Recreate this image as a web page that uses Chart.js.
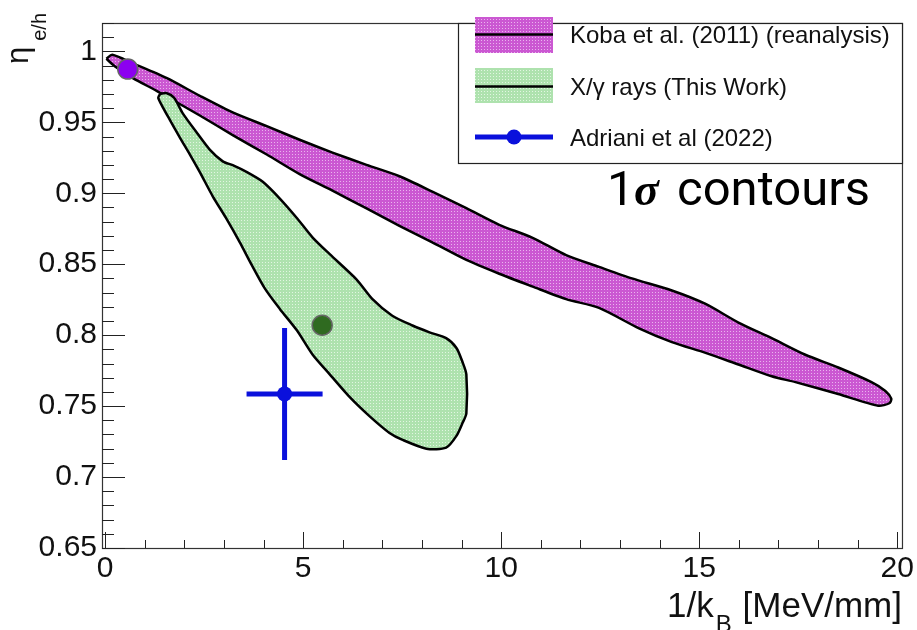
<!DOCTYPE html>
<html>
<head>
<meta charset="utf-8">
<script src="https://cdn.jsdelivr.net/npm/chart.js@4.4.1/dist/chart.umd.min.js"></script>
<style>
  html, body { margin: 0; padding: 0; background: #fff; }
  #wrap { width: 917px; height: 630px; }
</style>
</head>
<body>
<div id="wrap"><canvas id="myChart" width="917" height="630"></canvas></div>
<script>
// Koba et al. (2011) 1 sigma contour (top edge left->right, then bottom edge back)
const kobaX = [0.03, 0.18, 0.71, 1.56, 2.39, 3.22, 4.08, 4.91, 5.74, 6.60, 7.43, 8.26, 9.12, 9.95, 10.78, 11.64, 12.47, 13.30, 14.31, 15.16, 15.99, 16.83, 17.68, 18.51, 19.35, 19.70, 19.85, 19.80, 19.52, 18.51, 17.43, 16.83, 15.99, 15.16, 14.31, 13.48, 12.47, 11.64, 10.78, 9.95, 9.12, 8.26, 7.43, 6.60, 5.74, 4.91, 4.08, 3.22, 2.39, 1.31, 0.71, 0.25, 0.03];
const kobaY = [0.9948, 0.9976, 0.9914, 0.9811, 0.9687, 0.9570, 0.9473, 0.9377, 0.9287, 0.9200, 0.9120, 0.9012, 0.8895, 0.8778, 0.8688, 0.8564, 0.8481, 0.8400, 0.8315, 0.8220, 0.8089, 0.7979, 0.7862, 0.7772, 0.7669, 0.7607, 0.7552, 0.7520, 0.7503, 0.7585, 0.7669, 0.7710, 0.7793, 0.7875, 0.7951, 0.8048, 0.8192, 0.8254, 0.8344, 0.8433, 0.8530, 0.8654, 0.8771, 0.8893, 0.9018, 0.9135, 0.9273, 0.9410, 0.9548, 0.9720, 0.9810, 0.9893, 0.9948];

// X/gamma rays (This Work) 1 sigma contour
const greenX = [1.39, 1.54, 1.74, 1.96, 2.32, 2.64, 2.97, 3.22, 3.58, 3.98, 4.41, 4.84, 5.24, 5.67, 6.35, 6.75, 7.25, 7.76, 8.19, 8.61, 8.87, 9.02, 9.12, 9.12, 9.02, 8.87, 8.61, 8.11, 7.51, 7.18, 6.68, 6.17, 5.67, 5.24, 4.84, 4.41, 4.03, 3.70, 3.40, 3.05, 2.72, 2.39, 2.14, 1.89, 1.64, 1.46, 1.34, 1.39];
const greenY = [0.9700, 0.9707, 0.9673, 0.9563, 0.9425, 0.9308, 0.9225, 0.9198, 0.9149, 0.9081, 0.8963, 0.8826, 0.8688, 0.8571, 0.8392, 0.8254, 0.8137, 0.8068, 0.8020, 0.7979, 0.7910, 0.7813, 0.7724, 0.7448, 0.7379, 0.7290, 0.7207, 0.7200, 0.7262, 0.7311, 0.7428, 0.7565, 0.7724, 0.7862, 0.8034, 0.8185, 0.8330, 0.8495, 0.8654, 0.8826, 0.8977, 0.9149, 0.9273, 0.9391, 0.9514, 0.9604, 0.9673, 0.9700];

// best fit points
const kobaBestX = [0.57];
const kobaBestY = [0.9875];
const thisWorkBestX = [5.48];
const thisWorkBestY = [0.807];

// Adriani et al (2022) with errors
const adrianiX = [4.53];
const adrianiY = [0.7586];
const adrianiXErr = [0.96];
const adrianiYErr = [0.0465];

// axis ranges and ticks
const xRange = [-0.08, 20.12];
const yRange = [0.65, 1.02];
const xMajorStep = 5;
const yMajorStep = 0.05;

const legendLabels = ["Koba et al. (2011) (reanalysis)", "X/\u03B3 rays (This Work)", "Adriani et al (2022)"];

const canvas = document.getElementById("myChart");
const ctx = canvas.getContext("2d");

// ROOT-like dotted fill
function makePattern(dark, light) {
  const c = document.createElement("canvas");
  c.width = 3; c.height = 3;
  const g = c.getContext("2d");
  g.fillStyle = dark; g.fillRect(0, 0, 3, 3);
  g.fillStyle = light; g.fillRect(1, 1, 1, 1);
  return ctx.createPattern(c, "repeat");
}
const magentaFill = makePattern("#cb58d2", "#eab4ee");
const greenFill = makePattern("#aee2ae", "#e2f6e2");
const blue = "#0a10dc";

const toPts = (xs, ys) => xs.map((x, i) => ({ x, y: ys[i] }));

const overlay = {
  id: "overlay",
  beforeDatasetDraw(chart, args) {
    if (args.index !== 2) return;
    const { ctx, scales: { x, y } } = chart;
    ctx.save();
    ctx.strokeStyle = blue;
    ctx.lineWidth = 5;
    adrianiX.forEach((vx, i) => {
      const vy = adrianiY[i];
      ctx.beginPath();
      ctx.moveTo(x.getPixelForValue(vx - adrianiXErr[i]), y.getPixelForValue(vy));
      ctx.lineTo(x.getPixelForValue(vx + adrianiXErr[i]), y.getPixelForValue(vy));
      ctx.moveTo(x.getPixelForValue(vx), y.getPixelForValue(vy - adrianiYErr[i]));
      ctx.lineTo(x.getPixelForValue(vx), y.getPixelForValue(vy + adrianiYErr[i]));
      ctx.stroke();
    });
    ctx.restore();
  },
  afterDraw(chart) {
    const { ctx, chartArea: a, scales: { x, y } } = chart;
    ctx.save();

    // frame
    ctx.strokeStyle = "#333";
    ctx.lineWidth = 1.2;
    ctx.strokeRect(a.left + 0.5, a.top + 0.5, a.right - a.left, a.bottom - a.top);

    // inward ticks
    ctx.lineWidth = 1;
    ctx.strokeStyle = "#222";
    ctx.beginPath();
    for (let v = 0; v <= 20; v++) {
      const px = Math.round(x.getPixelForValue(v)) + 0.5;
      const len = v % xMajorStep === 0 ? 16 : 8;
      ctx.moveTo(px, a.bottom);
      ctx.lineTo(px, a.bottom - len);
    }
    for (let k = 65; k <= 102; k++) {
      const py = Math.round(y.getPixelForValue(k / 100)) + 0.5;
      const len = k % 5 === 0 ? 23 : 12;
      ctx.moveTo(a.left, py);
      ctx.lineTo(a.left + len, py);
    }
    ctx.stroke();

    // x title
    ctx.fillStyle = "#111";
    ctx.textBaseline = "alphabetic";
    ctx.textAlign = "left";
    const big = '35px "Liberation Sans", Arial, sans-serif';
    const sub = '24px "Liberation Sans", Arial, sans-serif';
    ctx.font = big;
    const wC = ctx.measureText(" [MeV/mm]").width;
    const wA = ctx.measureText("1/k").width;
    ctx.font = sub;
    const wB = ctx.measureText("B").width;
    const xr = a.right;
    ctx.font = big;
    ctx.fillText(" [MeV/mm]", xr - wC, 617);
    ctx.font = sub;
    ctx.fillText("B", xr - wC - wB - 1, 632);
    ctx.font = big;
    ctx.fillText("1/k", xr - wC - wB - wA - 3, 617);

    // y title (rotated)
    ctx.save();
    ctx.translate(28, 64);
    ctx.rotate(-Math.PI / 2);
    ctx.font = '31px "Liberation Sans", Arial, sans-serif';
    ctx.fillText("\u03B7", 0, 0);
    const wEta = ctx.measureText("\u03B7").width;
    ctx.font = '20px "Liberation Sans", Arial, sans-serif';
    ctx.fillText("e/h", wEta + 6, 18);
    ctx.restore();

    // legend box
    const lx = 458, ly = a.top, lr = a.right, lb = 163;
    ctx.fillStyle = "#fff";
    ctx.fillRect(lx, ly, lr - lx, lb - ly);
    ctx.strokeStyle = "#222";
    ctx.lineWidth = 1.2;
    ctx.strokeRect(lx + 0.5, ly + 0.5, lr - lx, lb - ly);

    const sx0 = 475, sx1 = 553;
    ctx.fillStyle = magentaFill;
    ctx.fillRect(sx0, 17, sx1 - sx0, 36);
    ctx.fillStyle = greenFill;
    ctx.fillRect(sx0, 68, sx1 - sx0, 35);
    ctx.strokeStyle = "#000";
    ctx.lineWidth = 2.5;
    ctx.beginPath();
    ctx.moveTo(sx0, 34.5); ctx.lineTo(sx1, 34.5);
    ctx.moveTo(sx0, 86.5); ctx.lineTo(sx1, 86.5);
    ctx.stroke();
    ctx.strokeStyle = blue;
    ctx.lineWidth = 5;
    ctx.beginPath();
    ctx.moveTo(sx0, 137); ctx.lineTo(sx1, 137);
    ctx.stroke();
    ctx.fillStyle = blue;
    ctx.beginPath();
    ctx.arc(514, 137, 7.5, 0, Math.PI * 2);
    ctx.fill();

    ctx.fillStyle = "#111";
    ctx.font = '24px "Liberation Sans", Arial, sans-serif';
    ctx.fillText(legendLabels[0], 570, 43);
    ctx.fillText(legendLabels[1], 570, 95);
    ctx.fillText(legendLabels[2], 570, 146);

    // 1 sigma contours label
    ctx.fillStyle = "#000";
    ctx.font = '49px Roboto, sans-serif';
    ctx.fillText("1", 607, 205);
    ctx.font = 'italic bold 46px "Liberation Serif", serif';
    ctx.fillText("\u03C3", 634, 205);
    ctx.font = '49px Roboto, sans-serif';
    ctx.fillText("contours", 677, 205);

    ctx.restore();
  }
};

const data = {
  datasets: [
    {
      label: "Koba best fit",
      data: toPts(kobaBestX, kobaBestY),
      pointRadius: 10,
      pointBackgroundColor: "#8c00f0",
      pointBorderColor: "#666",
      pointBorderWidth: 1.5,
      showLine: false,
    },
    {
      label: "This Work best fit",
      data: toPts(thisWorkBestX, thisWorkBestY),
      pointRadius: 10,
      pointBackgroundColor: "#2f6a20",
      pointBorderColor: "#666",
      pointBorderWidth: 1.5,
      showLine: false,
    },
    {
      label: legendLabels[2],
      data: toPts(adrianiX, adrianiY),
      pointRadius: 7.5,
      pointBackgroundColor: blue,
      pointBorderColor: blue,
      pointBorderWidth: 0,
      showLine: false,
    },
    {
      label: legendLabels[1],
      data: toPts(greenX, greenY),
      showLine: true,
      fill: "shape",
      backgroundColor: greenFill,
      borderColor: "#000",
      borderWidth: 2.5,
      pointRadius: 0,
      tension: 0.25,
    },
    {
      label: legendLabels[0],
      data: toPts(kobaX, kobaY),
      showLine: true,
      fill: "shape",
      backgroundColor: magentaFill,
      borderColor: "#000",
      borderWidth: 2.5,
      pointRadius: 0,
      tension: 0.25,
    },
  ],
};

const tickFont = { family: '"Liberation Sans", Arial, sans-serif', size: 30 };

const config = {
  type: "scatter",
  data: data,
  options: {
    responsive: false,
    animation: false,
    devicePixelRatio: 1,
    events: [],
    layout: { padding: { top: 10, right: 14, left: 0, bottom: 0 } },
    plugins: {
      legend: { display: false },
      tooltip: { enabled: false },
    },
    scales: {
      x: {
        type: "linear",
        min: xRange[0],
        max: xRange[1],
        border: { display: false },
        grid: { display: false, drawTicks: false },
        ticks: {
          stepSize: xMajorStep,
          includeBounds: false,
          padding: 3,
          color: "#111",
          font: tickFont,
          maxRotation: 0,
          callback: (v) => String(v),
        },
        afterFit: (scale) => { scale.height = 82; },
      },
      y: {
        type: "linear",
        min: yRange[0],
        max: yRange[1],
        border: { display: false },
        grid: { display: false, drawTicks: false },
        ticks: {
          stepSize: yMajorStep,
          includeBounds: false,
          padding: 5,
          color: "#111",
          font: tickFont,
          callback: (v) => String(+v.toFixed(2)),
        },
        afterFit: (scale) => { scale.width = 102; },
      },
    },
  },
  plugins: [overlay],
};

const myChart = new Chart(ctx, config);
</script>
</body>
</html>
